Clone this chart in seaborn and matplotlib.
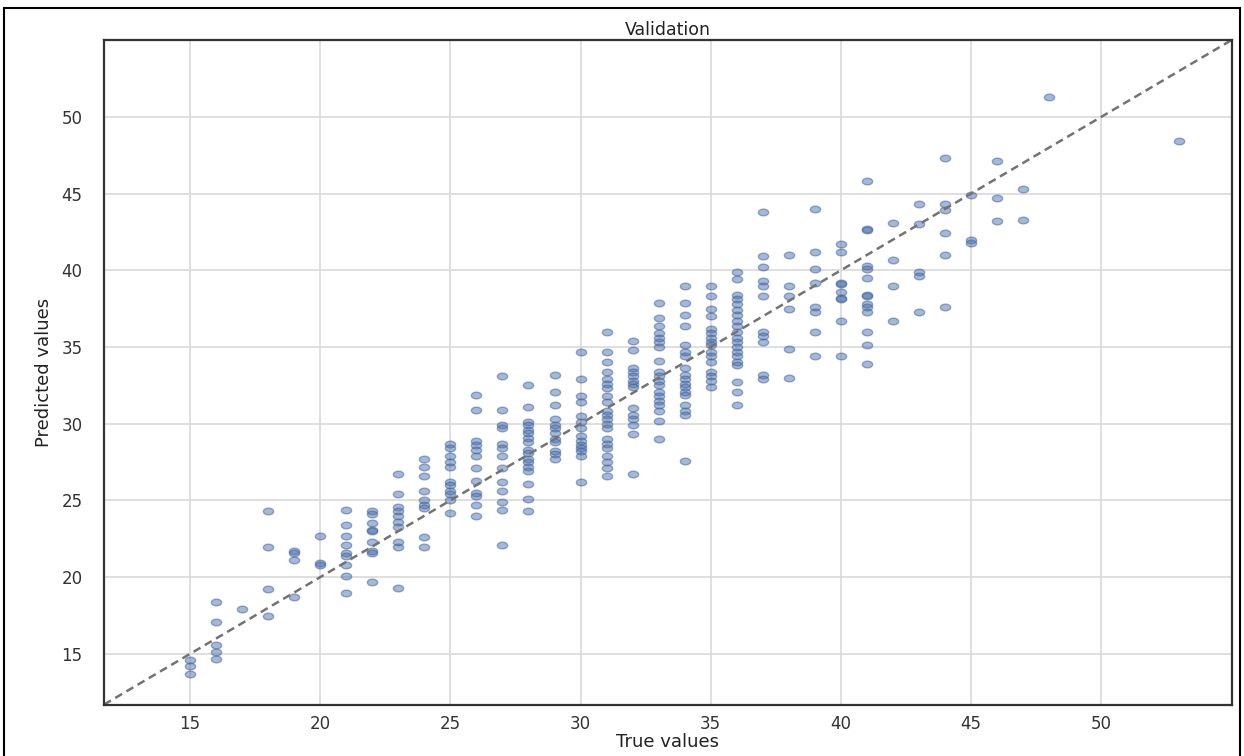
import numpy as np
import pandas as pd
import matplotlib
matplotlib.use('Agg')
import matplotlib.pyplot as plt
import seaborn as sns
from matplotlib.path import Path
from matplotlib.patches import Rectangle

# valores reales (enteros) y cuantas predicciones hay por cada uno
true_levels = [15, 16, 17, 18, 19, 20, 21, 22, 23, 24, 25, 26, 27, 28, 29, 30, 31, 32,
               33, 34, 35, 36, 37, 38, 39, 40, 41, 42, 43, 44, 45, 46, 47, 48, 53]
counts = [3, 5, 1, 4, 4, 3, 9, 9, 10, 9, 11, 12, 13, 17, 12, 14, 21, 14,
          19, 18, 16, 20, 11, 6, 8, 9, 14, 4, 5, 6, 3, 3, 2, 1, 1]

# predicciones, en el mismo orden que true_levels
predicted_values = [
    14.6, 14.2, 13.7,
    18.4, 17.1, 15.6, 15.1, 14.7,
    17.9,
    24.3, 22.0, 19.2, 17.5,
    21.7, 21.6, 21.1, 18.7,
    22.7, 20.9, 20.8,
    24.4, 23.4, 22.7, 22.1, 21.6, 21.4, 20.8, 20.1, 19.0,
    24.3, 24.1, 23.5, 23.1, 23.0, 22.3, 21.7, 21.6, 19.7,
    26.7, 25.4, 24.6, 24.3, 24.0, 23.6, 23.3, 22.3, 22.0, 19.3,
    27.7, 27.2, 26.6, 25.6, 25.0, 24.7, 24.5, 22.6, 22.0,
    28.7, 28.4, 27.9, 27.5, 27.2, 26.2, 26.0, 25.6, 25.4, 25.0, 24.2,
    31.9, 30.9, 28.9, 28.6, 28.3, 27.9, 27.1, 26.3, 25.5, 25.3, 24.7, 24.0,
    33.1, 30.9, 29.9, 29.7, 28.7, 28.4, 27.9, 27.1, 26.2, 25.6, 24.9, 24.4, 22.1,
    32.5, 31.1, 30.1, 29.9, 29.6, 29.4, 29.1, 28.8, 28.3, 28.1, 27.7, 27.5, 27.2, 26.9, 26.1, 25.1, 24.3,
    33.2, 32.1, 31.2, 30.3, 29.9, 29.7, 29.4, 29.0, 28.8, 28.2, 28.0, 27.7,
    34.7, 32.9, 31.8, 31.4, 30.5, 30.1, 29.7, 29.2, 28.9, 28.6, 28.4, 28.2, 27.9, 26.2,
    36.0, 34.7, 34.0, 33.4, 32.9, 32.6, 32.3, 31.8, 31.4, 30.8, 30.6, 30.3, 30.0, 29.7, 29.0,
    28.7, 28.4, 27.9, 27.5, 27.1, 26.6,
    35.4, 34.8, 33.6, 33.4, 33.1, 32.8, 32.6, 32.4, 31.0, 30.6, 30.3, 29.9, 29.3, 26.7,
    37.9, 36.9, 36.4, 35.9, 35.6, 35.3, 35.0, 34.1, 33.4, 33.1, 32.8, 32.5, 32.1, 31.8, 31.5,
    31.2, 30.8, 30.2, 29.0,
    39.0, 37.9, 37.1, 36.4, 35.1, 34.7, 34.4, 33.6, 33.2, 32.9, 32.6, 32.4, 32.1, 31.9, 31.2,
    30.8, 30.6, 27.6,
    39.0, 38.3, 37.5, 37.0, 36.2, 35.9, 35.6, 35.3, 35.1, 34.7, 34.4, 34.0, 33.4, 33.1, 32.8, 32.4,
    39.9, 39.4, 38.4, 38.1, 37.8, 37.4, 37.1, 36.7, 36.4, 36.0, 35.6, 35.3, 35.0, 34.7, 34.4,
    34.0, 33.8, 32.7, 32.1, 31.2,
    43.8, 40.9, 40.2, 39.3, 39.0, 38.3, 36.0, 35.7, 35.3, 33.2, 32.9,
    41.0, 39.0, 38.3, 37.5, 34.9, 33.0,
    44.0, 41.2, 40.1, 39.2, 37.6, 37.3, 36.0, 34.4,
    41.7, 41.2, 39.2, 39.1, 38.6, 38.2, 38.1, 36.7, 34.4,
    45.8, 42.7, 42.6, 40.3, 40.1, 39.5, 38.4, 38.3, 37.8, 37.6, 37.3, 36.0, 35.1, 33.9,
    43.1, 40.7, 39.0, 36.7,
    44.3, 43.0, 39.9, 39.6, 37.3,
    47.3, 44.3, 43.9, 42.4, 41.0, 37.6,
    44.9, 42.0, 41.8,
    47.1, 44.7, 43.2,
    45.3, 43.3,
    51.3,
    48.4,
]

true_values = np.repeat(true_levels, counts)
assert len(true_values) == len(predicted_values)
df = pd.DataFrame({'true': true_values, 'pred': predicted_values})

sns.set_style('whitegrid')
plt.rcParams['font.family'] = ['DejaVu Sans']

fig, ax = plt.subplots(figsize=(12.44, 7.56), dpi=100)
fig.subplots_adjust(left=0.0836, right=0.990, top=0.947, bottom=0.068)

# marcador eliptico (la imagen original esta estirada en horizontal)
t = np.linspace(0, 2 * np.pi, 40)
ellipse = Path(np.column_stack([np.cos(t), 0.65 * np.sin(t)]), closed=True)

sns.scatterplot(data=df, x='true', y='pred', marker=ellipse, s=55, color='#4c72b0',
                alpha=0.5, edgecolor='#3f5f94', linewidth=1, ax=ax)

lo = min(df['true'].min(), df['pred'].min()) - 2
hi = max(df['true'].max(), df['pred'].max()) + 2
ax.plot([lo, hi], [lo, hi], linestyle='--', color='0.45', lw=1.8, dashes=(3.2, 2))
ax.set_xlim(lo, hi)
ax.set_ylim(lo, hi)

ax.set_xticks(range(15, 55, 5))
ax.set_yticks(range(15, 55, 5))
ax.grid(color='#d9d9d9', lw=1.2)
for s in ax.spines.values():
    s.set_color('#333333')
    s.set_linewidth(1.6)
ax.tick_params(axis='x', labelsize=12, pad=4, colors='#333333')
ax.tick_params(axis='y', labelsize=12, pad=12, colors='#333333')

ax.set_title('Validation', fontsize=12.5, pad=4, color='#222222')
ax.set_xlabel('True values', fontsize=13, labelpad=0, color='#222222')
ax.set_ylabel('Predicted values', fontsize=13, labelpad=6, color='#222222',
              family=['Liberation Sans Narrow', 'DejaVu Sans'])

# marco negro de la captura
fig.add_artist(Rectangle((0.0032, -0.01), 0.9936, 0.999, transform=fig.transFigure,
                         fill=False, ec='black', lw=1.5))

plt.savefig('out.png', dpi=100)
